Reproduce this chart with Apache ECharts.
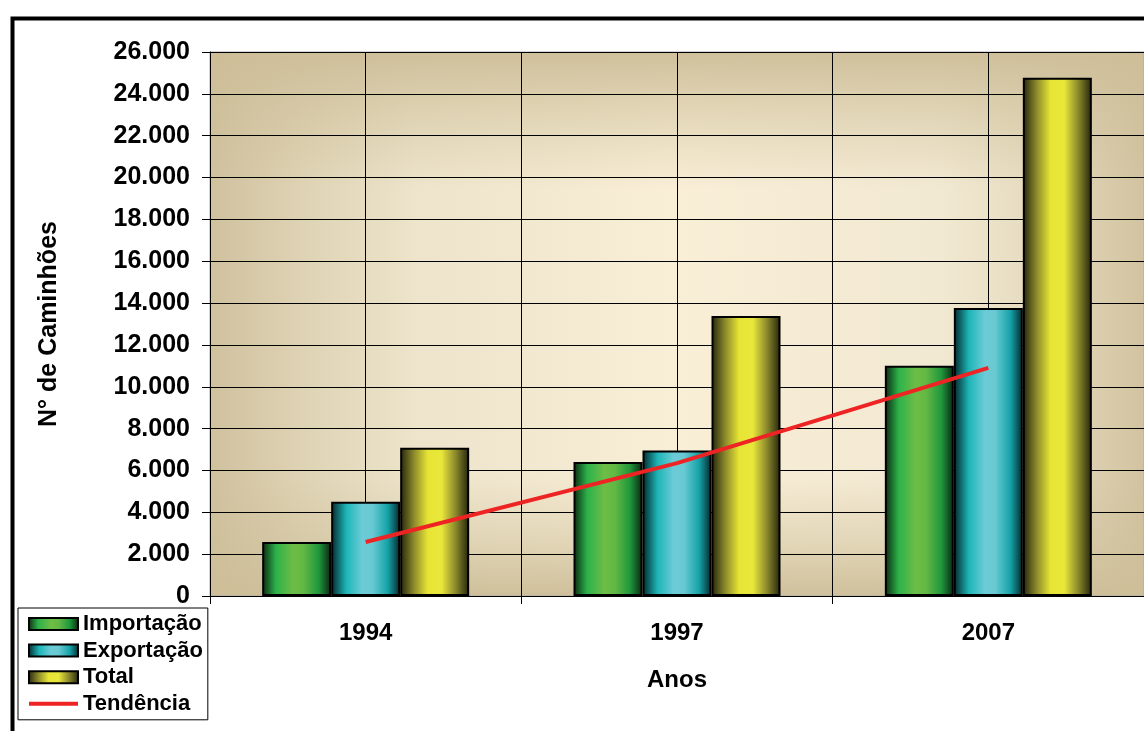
<!DOCTYPE html>
<html><head><meta charset="utf-8">
<script src="https://cdn.jsdelivr.net/npm/echarts@6/dist/echarts.min.js"></script>
<style>html,body{margin:0;padding:0;background:#fff}#c{width:1144px;height:731px}</style>
</head><body><div id="c"></div>
<script>
var categories = ['1994', '1997', '2007'];
var importacao = [2580, 6400, 11000];
var exportacao = [4500, 6950, 13770];
var total = [7080, 13380, 24770];
var tendencia = [2580, 6350, 10900];
var seriesNames = ['Importação', 'Exportação', 'Total', 'Tendência'];

var FONT = 'Arial, "Liberation Sans", sans-serif';
function grad(stops, vertical) {
  return new echarts.graphic.LinearGradient(0, 0, vertical ? 0 : 1, vertical ? 1 : 0,
    stops.map(function (s) { return { offset: s[0], color: s[1] }; }));
}
var greenG = grad([[0, '#0b2610'], [0.2, '#2cb24a'], [0.45, '#6dbd46'], [0.6, '#62b844'], [0.82, '#1f973c'], [1, '#0a230f']]);
var cyanG = grad([[0, '#04262a'], [0.22, '#1db6b8'], [0.45, '#6ccbd6'], [0.6, '#68c9d3'], [0.82, '#16a2a8'], [1, '#04262a']]);
var yellowG = grad([[0, '#23230c'], [0.2, '#8c8a2c'], [0.4, '#e6e434'], [0.6, '#e9e73a'], [0.8, '#8c8a2c'], [1, '#23230c']]);
var bgH = grad([[0, '#d0c19e'], [0.1, '#dfd3b5'], [0.22, '#ede4cb'], [0.5, '#f9eed6'], [0.78, '#f2e9d2'], [0.9, '#e4d9bc'], [1, '#d2c3a0']]);
var bgV = grad([[0, 'rgba(205,190,152,0.95)'], [0.12, 'rgba(205,190,152,0.45)'], [0.25, 'rgba(205,190,152,0)'],
                [0.78, 'rgba(205,190,152,0)'], [0.9, 'rgba(205,190,152,0.45)'], [1, 'rgba(205,190,152,0.95)']], true);

var lineIcon = 'path://M0,0L0.01,0L0.01,0.01Z M0,4L49,4L49,8L0,8Z M49,12L48.99,12L48.99,11.99Z';

var chart = echarts.init(document.getElementById('c'));
chart.setOption({
  animation: false,
  backgroundColor: '#fff',
  grid: {
    left: 210, top: 52, right: -2, bottom: 135,
    show: true, backgroundColor: 'transparent', borderColor: '#a8a8a8', borderWidth: 1
  },
  legend: {
    orient: 'vertical', left: 18, top: 608,
    data: [
      { name: seriesNames[0], icon: 'rect' }, { name: seriesNames[1], icon: 'rect' }, { name: seriesNames[2], icon: 'rect' },
      { name: seriesNames[3], icon: lineIcon, itemStyle: { color: '#ee2424', borderWidth: 0 } }
    ],
    backgroundColor: '#fff', borderColor: '#000', borderWidth: 1, borderRadius: 0,
    padding: [5, 5, 5, 10],
    itemWidth: 49, itemHeight: 12, itemGap: 4.6,
    textStyle: { fontFamily: FONT, fontWeight: 'bold', fontSize: 22, color: '#000', lineHeight: 20 }
  },
  xAxis: [{
    type: 'category', data: categories,
    name: 'Anos', nameLocation: 'middle', nameGap: 72,
    nameTextStyle: { fontFamily: FONT, fontWeight: 'bold', fontSize: 24, color: '#000' },
    axisLine: { lineStyle: { color: '#000', width: 1 } },
    axisTick: { show: true, length: 8, lineStyle: { color: '#000' } },
    axisLabel: { margin: 25, fontFamily: FONT, fontWeight: 'bold', fontSize: 24, color: '#000' },
    splitLine: { show: false }
  }, {
    type: 'value', min: 0, max: 6, interval: 1, show: true, position: 'top',
    axisLine: { show: false }, axisTick: { show: false }, axisLabel: { show: false },
    splitLine: { show: true, lineStyle: { color: '#000', width: 1 } }
  }],
  yAxis: {
    type: 'value', min: 0, max: 26000, interval: 2000,
    name: 'N° de Caminhões', nameLocation: 'middle', nameGap: 148,
    nameTextStyle: { fontFamily: FONT, fontWeight: 'bold', fontSize: 25, color: '#000' },
    axisLine: { show: true, lineStyle: { color: '#000', width: 1 } },
    axisTick: { show: true, length: 8, lineStyle: { color: '#000' } },
    axisLabel: {
      margin: 20, fontFamily: FONT, fontWeight: 'bold', fontSize: 25, color: '#000',
      formatter: function (v) { return String(v).replace(/\B(?=(\d{3})+(?!\d))/g, '.'); }
    },
    splitLine: { show: true, lineStyle: { color: '#000', width: 1 } }
  },
  series: [
    { name: seriesNames[0], type: 'bar', data: importacao, barWidth: 69, barGap: '0%',
      itemStyle: { color: greenG, borderColor: '#000', borderWidth: 2 } },
    { name: seriesNames[1], type: 'bar', data: exportacao, barWidth: 69, barGap: '0%',
      itemStyle: { color: cyanG, borderColor: '#000', borderWidth: 2 } },
    { name: seriesNames[2], type: 'bar', data: total, barWidth: 69, barGap: '0%',
      itemStyle: { color: yellowG, borderColor: '#000', borderWidth: 2 } },
    { name: seriesNames[3], type: 'line', data: tendencia, symbol: 'none', z: 5,
      lineStyle: { color: '#ee2424', width: 4 }, itemStyle: { color: '#ee2424' } }
  ]
});

// plot-area background, placed from the axes' own scales
var yTop = chart.convertToPixel({ yAxisIndex: 0 }, 26000);
var yBot = chart.convertToPixel({ yAxisIndex: 0 }, 0);
var xL = chart.convertToPixel({ xAxisIndex: 1 }, 0);
var xR = chart.convertToPixel({ xAxisIndex: 1 }, 6);
chart.setOption({
  graphic: [
    { type: 'rect', z: -2, silent: true, shape: { x: xL, y: yTop, width: xR - xL, height: yBot - yTop },
      style: { fill: bgH } },
    { type: 'rect', z: -1, silent: true, shape: { x: xL, y: yTop, width: xR - xL, height: yBot - yTop },
      style: { fill: bgV } },
    { type: 'rect', left: 10, top: 16, z: 100, silent: true,
      shape: { width: 1250, height: 800 },
      style: { fill: 'none', stroke: '#000', lineWidth: 4 } }
  ]
});
</script></body></html>
